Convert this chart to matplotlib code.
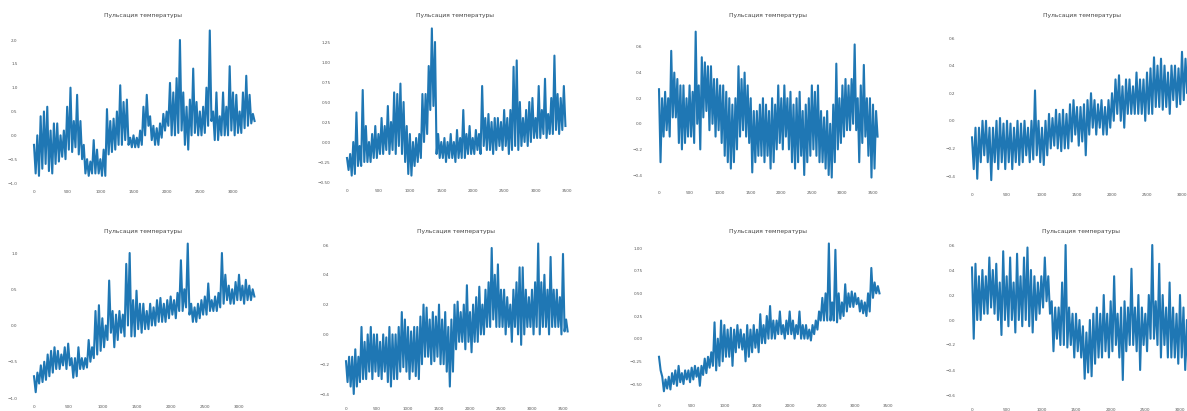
import matplotlib.pyplot as plt
import numpy as np
from matplotlib.ticker import MultipleLocator

# Каждая серия задана верхней и нижней огибающей (шаг 50 отсчётов)
step = 50

p1_high = [-0.2, 0.0, 0.4, 0.5, 0.6, 0.1, 0.25, 0.25, 0.0, 0.1, 0.6, 1.0, 0.3, 0.85, 0.3, -0.2,
           -0.5, -0.55, -0.1, -0.3, -0.5, -0.3, 0.55, 0.3, 0.35, 0.5, 1.05, 0.7, 0.75, -0.05, 0.0,
           -0.05, 0.1, 0.6, 0.85, 0.4, 0.2, 0.15, 0.25, 0.45, 0.5, 1.1, 0.9, 1.2, 2.0, 0.9, 0.6,
           0.75, 1.4, 0.7, 0.5, 0.6, 1.0, 2.2, 0.5, 0.9, 0.4, 0.9, 0.6, 1.45, 0.9, 0.85, 0.5, 0.9,
           1.25, 0.85, 0.45]
p1_low = [-0.8, -0.85, -0.7, -0.6, -0.75, -0.8, -0.6, -0.55, -0.45, -0.5, -0.3, -0.35, -0.25,
          -0.4, -0.5, -0.8, -0.85, -0.8, -0.8, -0.8, -0.85, -0.85, -0.4, -0.35, -0.3, -0.2, -0.2,
          -0.1, -0.2, -0.25, -0.25, -0.25, -0.2, 0.0, 0.2, -0.1, -0.2, -0.2, -0.05, 0.1, 0.2, 0.0,
          0.0, 0.05, 0.1, -0.2, -0.3, 0.0, 0.05, 0.0, 0.0, 0.05, 0.2, 0.3, -0.1, -0.1, 0.0, 0.0,
          0.0, 0.1, 0.0, 0.05, 0.05, 0.15, 0.2, 0.25, 0.3]

p2_high = [-0.2, -0.15, 0.0, 0.37, -0.05, 0.65, 0.2, 0.0, 0.1, 0.2, 0.1, 0.3, 0.2, 0.45, 0.25,
           0.62, 0.6, 0.73, 0.5, 0.2, 0.1, 0.0, 0.05, 0.1, 0.6, 0.6, 0.95, 1.42, 1.25, 0.1, 0.0,
           0.05, 0.0, 0.1, 0.0, 0.15, 0.05, 0.4, 0.1, 0.2, 0.05, 0.15, 0.1, 0.7, 0.3, 0.35, 0.25,
           0.3, 0.3, 0.25, 0.4, 0.3, 0.4, 0.94, 1.02, 0.5, 0.3, 0.4, 0.5, 0.55, 0.3, 0.7, 0.4,
           0.79, 0.35, 0.55, 1.08, 0.6, 0.55, 0.7]
p2_low = [-0.35, -0.42, -0.4, -0.3, -0.3, -0.25, -0.25, -0.25, -0.2, -0.2, -0.15, -0.15, -0.1,
          -0.15, -0.1, -0.15, -0.05, -0.15, -0.25, -0.4, -0.42, -0.3, -0.25, -0.2, 0.0, 0.1, 0.4,
          0.45, -0.15, -0.2, -0.2, -0.25, -0.2, -0.2, -0.25, -0.2, -0.2, -0.2, -0.15, -0.15,
          -0.15, -0.1, -0.15, -0.05, -0.1, -0.1, -0.15, -0.1, -0.05, -0.1, -0.05, -0.15, -0.1,
          -0.05, -0.1, -0.05, 0.0, -0.05, 0.0, 0.05, 0.05, 0.05, 0.1, 0.05, 0.1, 0.1, 0.15, 0.1,
          0.15, 0.2]

p3_high = [0.27, 0.2, 0.25, 0.2, 0.57, 0.4, 0.35, 0.3, 0.3, 0.2, 0.3, 0.25, 0.72, 0.3, 0.52,
           0.48, 0.45, 0.45, 0.35, 0.35, 0.3, 0.3, 0.25, 0.2, 0.15, 0.2, 0.45, 0.35, 0.4, 0.3,
           0.2, 0.1, 0.1, 0.15, 0.2, 0.15, 0.1, 0.2, 0.15, 0.3, 0.2, 0.3, 0.2, 0.25, 0.15, 0.2,
           0.25, 0.1, 0.15, 0.2, 0.3, 0.25, 0.3, 0.1, 0.05, 0.1, 0.0, 0.15, 0.47, 0.2, 0.3, 0.35,
           0.3, 0.35, 0.62, 0.2, 0.3, 0.46, 0.2, 0.2, 0.15, 0.1]
p3_low = [-0.3, -0.1, -0.05, -0.1, 0.05, 0.05, -0.15, -0.2, -0.15, -0.1, -0.1, -0.15, 0.0,
          -0.2, 0.05, 0.1, -0.05, 0.0, -0.1, -0.05, -0.15, -0.25, -0.3, -0.35, -0.3, -0.2, -0.1,
          -0.05, -0.1, -0.15, -0.38, -0.3, -0.25, -0.25, -0.3, -0.25, -0.35, -0.3, -0.2, -0.15,
          -0.2, -0.1, -0.2, -0.3, -0.35, -0.3, -0.25, -0.4, -0.3, -0.25, -0.2, -0.25, -0.3, -0.3,
          -0.35, -0.4, -0.42, -0.3, -0.2, -0.15, -0.1, -0.05, -0.05, 0.0, -0.05, -0.3, -0.15,
          -0.1, -0.25, -0.42, -0.35, -0.1]

p4_high = [-0.12, -0.05, -0.05, 0.0, 0.0, -0.05, -0.05, 0.0, 0.02, -0.02, 0.0, -0.02, -0.05,
           0.0, -0.02, 0.0, -0.05, 0.0, 0.22, 0.0, -0.05, 0.0, 0.05, 0.02, 0.08, 0.05, 0.08,
           0.05, 0.12, 0.15, 0.1, 0.1, 0.12, 0.15, 0.2, 0.15, 0.12, 0.15, 0.1, 0.15, 0.2, 0.3,
           0.33, 0.25, 0.3, 0.3, 0.25, 0.35, 0.3, 0.3, 0.35, 0.38, 0.46, 0.4, 0.45, 0.4, 0.35,
           0.4, 0.4, 0.38, 0.5, 0.45, 0.55, 0.5]
p4_low = [-0.35, -0.42, -0.3, -0.25, -0.3, -0.43, -0.3, -0.35, -0.3, -0.35, -0.3, -0.35, -0.3,
          -0.32, -0.3, -0.25, -0.3, -0.28, -0.25, -0.3, -0.32, -0.25, -0.2, -0.18, -0.2, -0.22,
          -0.2, -0.2, -0.15, -0.1, -0.18, -0.15, -0.25, -0.1, -0.05, -0.1, -0.05, -0.1, -0.1,
          -0.05, 0.0, 0.05, 0.0, -0.05, 0.05, 0.05, 0.05, 0.05, 0.05, 0.0, 0.05, 0.05, 0.1, 0.1,
          0.08, 0.1, 0.05, 0.15, 0.1, 0.12, 0.15, 0.2, 0.2, 0.25]

p5_high = [-0.7, -0.65, -0.55, -0.5, -0.4, -0.35, -0.3, -0.35, -0.4, -0.3, -0.25, -0.45, -0.45,
           -0.3, -0.45, -0.45, -0.2, -0.3, 0.2, 0.28, 0.1, 0.0, 0.62, 0.2, 0.15, 0.2, 0.15,
           0.85, 1.0, 0.35, 0.48, 0.3, 0.3, 0.2, 0.3, 0.25, 0.35, 0.38, 0.3, 0.35, 0.4, 0.35,
           0.45, 0.9, 0.5, 1.13, 0.3, 0.25, 0.3, 0.35, 0.4, 0.58, 0.35, 0.4, 0.45, 1.0, 0.7,
           0.55, 0.5, 0.6, 0.7, 0.55, 0.63, 0.55, 0.5]
p5_low = [-0.92, -0.8, -0.78, -0.75, -0.7, -0.65, -0.6, -0.6, -0.55, -0.6, -0.55, -0.72, -0.7,
          -0.6, -0.6, -0.58, -0.5, -0.45, -0.4, -0.35, -0.3, -0.2, -0.1, -0.3, -0.2, -0.1,
          -0.15, 0.0, -0.15, -0.15, -0.05, -0.1, -0.05, -0.05, 0.0, 0.0, 0.05, 0.05, 0.05, 0.1,
          0.15, 0.1, 0.2, 0.2, 0.25, 0.15, 0.05, 0.05, 0.1, 0.15, 0.15, 0.2, 0.2, 0.2, 0.25,
          0.3, 0.35, 0.3, 0.3, 0.35, 0.35, 0.3, 0.35, 0.35, 0.4]

p6_high = [-0.18, -0.15, -0.15, -0.1, -0.15, 0.05, -0.05, 0.0, 0.05, 0.0, 0.0, -0.05, 0.0,
           -0.02, 0.05, 0.0, 0.0, 0.05, 0.15, 0.1, 0.05, 0.02, 0.05, 0.05, 0.12, 0.2, 0.18, 0.1,
           0.15, 0.12, 0.2, 0.1, 0.15, 0.05, 0.1, 0.2, 0.22, 0.15, 0.2, 0.33, 0.15, 0.2, 0.25,
           0.32, 0.2, 0.3, 0.35, 0.58, 0.4, 0.47, 0.3, 0.3, 0.25, 0.2, 0.3, 0.35, 0.45, 0.45,
           0.3, 0.25, 0.3, 0.35, 0.61, 0.35, 0.4, 0.3, 0.52, 0.3, 0.3, 0.25, 0.54, 0.1]
p6_low = [-0.32, -0.35, -0.4, -0.35, -0.32, -0.3, -0.3, -0.25, -0.3, -0.25, -0.28, -0.3, -0.25,
          -0.32, -0.35, -0.3, -0.3, -0.25, -0.22, -0.25, -0.3, -0.25, -0.28, -0.3, -0.2, -0.15,
          -0.15, -0.2, -0.18, -0.15, -0.2, -0.2, -0.25, -0.35, -0.25, -0.1, -0.05, -0.05, -0.1,
          -0.05, -0.12, -0.05, -0.05, 0.0, 0.0, 0.05, 0.05, 0.1, 0.05, 0.05, 0.05, 0.0, 0.05,
          -0.05, 0.05, 0.0, -0.07, 0.0, 0.05, 0.05, 0.0, 0.05, 0.0, 0.05, 0.05, 0.0, 0.05, 0.05,
          0.05, 0.0, 0.02, 0.02]

p7_high = [-0.2, -0.42, -0.45, -0.42, -0.38, -0.35, -0.3, -0.38, -0.35, -0.35, -0.32, -0.3,
           -0.32, -0.3, -0.22, -0.2, -0.15, 0.18, 0.0, 0.2, 0.15, 0.1, 0.12, 0.1, 0.15, 0.1,
           0.05, 0.15, 0.1, 0.15, 0.1, 0.27, 0.15, 0.25, 0.36, 0.2, 0.2, 0.3, 0.15, 0.2, 0.3,
           0.2, 0.15, 0.3, 0.15, 0.15, 0.1, 0.15, 0.2, 0.3, 0.45, 0.5, 1.05, 0.4, 0.98, 0.5, 0.4,
           0.6, 0.5, 0.52, 0.5, 0.45, 0.42, 0.4, 0.5, 0.78, 0.62, 0.58]
p7_low = [-0.35, -0.58, -0.55, -0.56, -0.5, -0.52, -0.48, -0.5, -0.45, -0.48, -0.45, -0.42,
          -0.52, -0.4, -0.38, -0.32, -0.3, -0.35, -0.3, -0.25, -0.2, -0.2, -0.3, -0.15, -0.1,
          -0.12, -0.25, -0.2, -0.15, -0.1, -0.15, -0.05, -0.05, 0.0, 0.0, 0.0, 0.05, 0.05, 0.0,
          0.05, 0.05, 0.0, 0.05, 0.0, 0.0, 0.0, -0.02, 0.05, 0.1, 0.2, 0.2, 0.2, 0.2, 0.2, 0.18,
          0.22, 0.25, 0.3, 0.35, 0.35, 0.38, 0.3, 0.28, 0.25, 0.3, 0.45, 0.5, 0.5]

p8_high = [0.42, 0.45, 0.35, 0.4, 0.35, 0.5, 0.4, 0.45, 0.3, 0.55, 0.35, 0.5, 0.3, 0.53, 0.35,
           0.5, 0.58, 0.4, 0.35, 0.3, 0.35, 0.5, 0.35, 0.15, 0.1, 0.1, 0.3, 0.6, 0.1, 0.05, 0.05,
           0.0, -0.05, -0.1, 0.0, 0.05, 0.1, 0.05, 0.2, 0.05, 0.15, 0.35, 0.05, 0.1, 0.15, 0.1,
           0.41, 0.1, 0.2, 0.1, 0.05, 0.2, 0.6, 0.15, 0.45, 0.2, 0.1, 0.3, 0.1, 0.05, 0.2, 0.1,
           0.0, -0.1]
p8_low = [-0.15, 0.0, 0.0, 0.05, 0.05, 0.1, 0.05, 0.0, -0.12, 0.0, -0.05, 0.0, -0.1, 0.0,
          -0.05, 0.0, -0.05, -0.1, 0.0, 0.05, 0.1, 0.15, 0.05, -0.25, -0.15, -0.2, -0.2, -0.22,
          -0.2, -0.3, -0.25, -0.3, -0.47, -0.42, -0.45, -0.35, -0.3, -0.3, -0.25, -0.3, -0.25,
          -0.2, -0.3, -0.48, -0.25, -0.2, -0.2, -0.25, -0.4, -0.2, -0.25, -0.15, -0.15, -0.2,
          -0.3, -0.2, -0.3, -0.3, -0.3, -0.35, -0.3, -0.4, -0.55, -0.6]

series = [(p1_high, p1_low), (p2_high, p2_low), (p3_high, p3_low), (p4_high, p4_low),
          (p5_high, p5_low), (p6_high, p6_low), (p7_high, p7_low), (p8_high, p8_low)]
title = 'Пульсация температуры'
y_steps = [0.5, 0.25, 0.2, 0.2, 0.5, 0.2, 0.25, 0.2]

# размещение: пределы осей и положение двух подписей по x и по y в пикселях картинки
W, H = 1187, 411
layout = [
    dict(xlim=(-165, 3465), ylim=(-1.02, 2.38), xcal=((0, 34), (3000, 233)), ycal=((2.0, 40), (-1.0, 183))),
    dict(xlim=(-172, 3622), ylim=(-0.52, 1.47), xcal=((0, 347), (3500, 567)), ycal=((1.25, 42), (-0.5, 182))),
    dict(xlim=(-178, 3728), ylim=(-0.48, 0.78), xcal=((0, 659), (3500, 873)), ycal=((0.6, 47), (-0.4, 175))),
    dict(xlim=(-158, 3308), ylim=(-0.48, 0.63), xcal=((0, 972), (3000, 1182)), ycal=((0.6, 38), (-0.4, 176))),
    dict(xlim=(-160, 3360), ylim=(-1.02, 1.23), xcal=((0, 34), (3000, 239)), ycal=((1.0, 253), (-1.0, 398))),
    dict(xlim=(-178, 3728), ylim=(-0.45, 0.66), xcal=((0, 346), (3500, 563)), ycal=((0.6, 245), (-0.4, 394))),
    dict(xlim=(-168, 3518), ylim=(-0.66, 1.13), xcal=((0, 659), (3000, 855)), ycal=((1.0, 248), (-0.5, 384))),
    dict(xlim=(-158, 3308), ylim=(-0.66, 0.66), xcal=((0, 972), (3000, 1180)), ycal=((0.6, 245), (-0.6, 395))),
]
title_y = [16, 16, 16, 16, 231, 231, 231, 231]


def box(xlim, ylim, xcal, ycal):
    (xa, pxa), (xb, pxb) = xcal
    sx = (pxb - pxa) / (xb - xa)
    left = pxa + (xlim[0] - xa) * sx
    right = pxa + (xlim[1] - xa) * sx
    (ya, pya), (yb, pyb) = ycal
    sy = (pyb - pya) / (yb - ya)
    top = pya + (ylim[1] - ya) * sy
    bottom = pya + (ylim[0] - ya) * sy
    return [left / W, 1 - bottom / H, (right - left) / W, (bottom - top) / H]


fig = plt.figure(figsize=(W / 100, H / 100), dpi=100)

for (high, low), lay, ys, ty in zip(series, layout, y_steps, title_y):
    rect = box(**lay)
    ax = fig.add_axes(rect)
    values = np.column_stack([high, low]).ravel()
    x = np.arange(len(values)) * step / 2
    ax.plot(x, values, color='#1f77b4', lw=1.5)
    ax.set_xlim(*lay['xlim'])
    ax.set_ylim(*lay['ylim'])
    ax.xaxis.set_major_locator(MultipleLocator(500))
    ax.yaxis.set_major_locator(MultipleLocator(ys))
    ax.tick_params(length=0, labelsize=3, labelcolor='#555555', pad=4)
    for s in ax.spines.values():
        s.set_visible(False)
    fig.text(rect[0] + rect[2] / 2, 1 - ty / H, title, fontsize=4.3, color='#444444',
             ha='center', va='center')

fig.savefig('out.png', dpi=100)
